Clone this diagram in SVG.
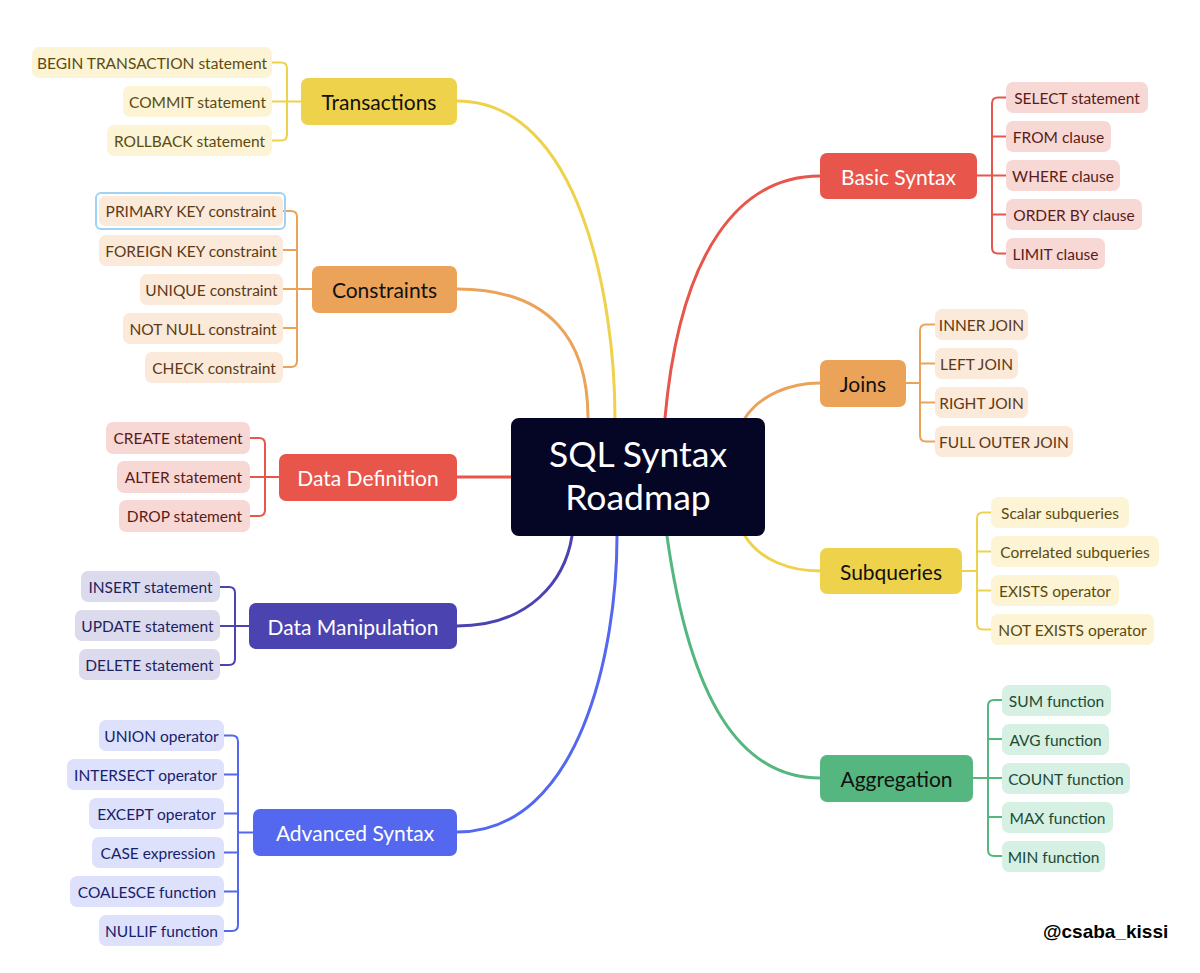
<svg xmlns="http://www.w3.org/2000/svg" width="1200" height="973" viewBox="0 0 1200 973">
<style>
.leaf{font-family:Lato,"Liberation Sans",sans-serif;font-size:15.5px;text-anchor:middle;dominant-baseline:central}
.br{font-family:Lato,"Liberation Sans",sans-serif;font-size:21px;text-anchor:middle;dominant-baseline:central}
.ctr{font-family:Lato,"Liberation Sans",sans-serif;font-size:35.5px;text-anchor:middle;fill:#ffffff}
.c{fill:none;stroke-width:3;stroke-linecap:round}
.b{fill:none;stroke-width:2}
.y{stroke:#efd24c}.o{stroke:#eba35a}.r{stroke:#e8554a}.i{stroke:#4a43b0}.bl{stroke:#5368ef}.g{stroke:#55b77f}
.ly rect{fill:#fcf4d4}.ly text{fill:#5b4b12}
.lo rect{fill:#fbe9d9}.lo text{fill:#5d3a18}
.lr rect{fill:#f8d8d5}.lr text{fill:#5a1c19}
.li rect{fill:#dcdbee}.li text{fill:#221f5c}
.lb rect{fill:#dde1fc}.lb text{fill:#18226b}
.lg rect{fill:#d6f0e3}.lg text{fill:#1d4a33}
</style>
<rect width="1200" height="973" fill="#ffffff"/>
<g id="connectors">
<path class="c y" d="M457,101 C580,101 615,300 615,418"/>
<path class="c o" d="M457,289 C550,289 588,340 588,418"/>
<path class="c r" d="M457,477 H511"/>
<path class="c i" d="M457,626 C530,626 565,580 572,536"/>
<path class="c bl" d="M457,832 C580,832 617,650 617,536"/>
<path class="c r" d="M665,418 C680,250 740,176 820,176"/>
<path class="c o" d="M745,418 C760,395 790,383 820,383"/>
<path class="c y" d="M745,536 C760,560 790,571 820,571"/>
<path class="c g" d="M667,536 C690,700 740,778 820,778"/>
<path class="b y" d="M272,62.5 H281 Q287,62.5 287,68.5 V134.5 Q287,140.5 281,140.5 H272 M272,101.5 H301"/>
<path class="b o" d="M283,211 H291 Q297,211 297,217 V361 Q297,367 291,367 H283 M283,250 H297 M283,289 H312 M283,328 H297"/>
<path class="b r" d="M250,438 H259 Q265,438 265,444 V510 Q265,516 259,516 H250 M250,477 H279"/>
<path class="b i" d="M220,587 H229 Q235,587 235,593 V659 Q235,665 229,665 H220 M220,626 H249"/>
<path class="b bl" d="M224,735.5 H232 Q238,735.5 238,741.5 V925 Q238,931 232,931 H224 M224,774.5 H238 M224,813.5 H238 M224,852.5 H238 M224,891.5 H238 M238,832.5 H253"/>
<path class="b r" d="M1006,97.5 H998 Q992,97.5 992,103.5 V247.5 Q992,253.5 998,253.5 H1006 M1006,136.5 H992 M977,175.5 H1006 M1006,214.5 H992"/>
<path class="b o" d="M935,324.5 H926 Q920,324.5 920,330.5 V435.5 Q920,441.5 926,441.5 H935 M935,363.5 H920 M906,383 H920 M935,402.5 H920"/>
<path class="b y" d="M991,512.5 H983 Q977,512.5 977,518.5 V623.5 Q977,629.5 983,629.5 H991 M991,551.5 H977 M962,571 H977 M991,590.5 H977"/>
<path class="b g" d="M1002,700 H994 Q988,700 988,706 V850 Q988,856 994,856 H1002 M1002,739 H988 M973,778 H1002 M1002,817 H988"/>
</g>
<g id="center">
<rect x="511" y="418" width="254" height="118" rx="8" fill="#050626"/>
<text class="ctr" x="638" y="467">SQL Syntax</text>
<text class="ctr" x="638" y="510">Roadmap</text>
</g>
<g id="transactions"><rect x="301" y="78" width="156" height="47" rx="7" fill="#efd24c"/><text class="br" x="379" y="101.5" fill="#111">Transactions</text></g>
<g id="t1" class="ly"><rect x="32" y="47" width="240" height="31" rx="7"/><text class="leaf" x="152" y="62.5">BEGIN TRANSACTION statement</text></g>
<g id="t2" class="ly"><rect x="123" y="86" width="149" height="31" rx="7"/><text class="leaf" x="197.5" y="101.5">COMMIT statement</text></g>
<g id="t3" class="ly"><rect x="107" y="125" width="165" height="31" rx="7"/><text class="leaf" x="189.5" y="140.5">ROLLBACK statement</text></g>

<g id="constraints"><rect x="312" y="266" width="145" height="47" rx="7" fill="#eba35a"/><text class="br" x="384.5" y="289.5" fill="#111">Constraints</text></g>
<g id="c1" class="lo"><rect x="96" y="193" width="189" height="36" rx="5" style="fill:none;stroke:#9fd3f5;stroke-width:2"/><rect x="99" y="196" width="184" height="30" rx="6"/><text class="leaf" x="191" y="211">PRIMARY KEY constraint</text></g>
<g id="c2" class="lo"><rect x="99" y="235" width="184" height="31" rx="7"/><text class="leaf" x="191" y="250.5">FOREIGN KEY constraint</text></g>
<g id="c3" class="lo"><rect x="140" y="274" width="143" height="31" rx="7"/><text class="leaf" x="211.5" y="289.5">UNIQUE constraint</text></g>
<g id="c4" class="lo"><rect x="123" y="313" width="160" height="31" rx="7"/><text class="leaf" x="203" y="328.5">NOT NULL constraint</text></g>
<g id="c5" class="lo"><rect x="145" y="352" width="138" height="31" rx="7"/><text class="leaf" x="214" y="367.5">CHECK constraint</text></g>

<g id="datadef"><rect x="279" y="454" width="178" height="47" rx="7" fill="#e8554a"/><text class="br" x="368" y="477.5" fill="#fff">Data Definition</text></g>
<g id="d1" class="lr"><rect x="106" y="422" width="144" height="32" rx="7"/><text class="leaf" x="178" y="438">CREATE statement</text></g>
<g id="d2" class="lr"><rect x="117" y="461" width="133" height="32" rx="7"/><text class="leaf" x="183.5" y="477">ALTER statement</text></g>
<g id="d3" class="lr"><rect x="119" y="500" width="131" height="32" rx="7"/><text class="leaf" x="184.5" y="516">DROP statement</text></g>

<g id="datamanip"><rect x="249" y="603" width="208" height="46" rx="7" fill="#4a43b0"/><text class="br" x="353" y="626" fill="#fff">Data Manipulation</text></g>
<g id="m1" class="li"><rect x="81" y="571" width="139" height="31" rx="7"/><text class="leaf" x="150.5" y="586.5">INSERT statement</text></g>
<g id="m2" class="li"><rect x="75" y="610" width="145" height="31" rx="7"/><text class="leaf" x="147.5" y="625.5">UPDATE statement</text></g>
<g id="m3" class="li"><rect x="79" y="649" width="141" height="31" rx="7"/><text class="leaf" x="149.5" y="664.5">DELETE statement</text></g>

<g id="advanced"><rect x="253" y="809" width="204" height="47" rx="7" fill="#5368ef"/><text class="br" x="355" y="832.5" fill="#fff">Advanced Syntax</text></g>
<g id="a1" class="lb"><rect x="99" y="720" width="125" height="31" rx="7"/><text class="leaf" x="161.5" y="735.5">UNION operator</text></g>
<g id="a2" class="lb"><rect x="67" y="759" width="157" height="31" rx="7"/><text class="leaf" x="145.5" y="774.5">INTERSECT operator</text></g>
<g id="a3" class="lb"><rect x="89" y="798" width="135" height="31" rx="7"/><text class="leaf" x="156.5" y="813.5">EXCEPT operator</text></g>
<g id="a4" class="lb"><rect x="92" y="837" width="132" height="31" rx="7"/><text class="leaf" x="158" y="852.5">CASE expression</text></g>
<g id="a5" class="lb"><rect x="70" y="876" width="154" height="31" rx="7"/><text class="leaf" x="147" y="891.5">COALESCE function</text></g>
<g id="a6" class="lb"><rect x="99" y="915" width="125" height="31" rx="7"/><text class="leaf" x="161.5" y="930.5">NULLIF function</text></g>

<g id="basic"><rect x="820" y="153" width="157" height="46" rx="7" fill="#e8554a"/><text class="br" x="898.5" y="176" fill="#fff">Basic Syntax</text></g>
<g id="b1" class="lr"><rect x="1006" y="82" width="142" height="31" rx="7"/><text class="leaf" x="1077" y="97.5">SELECT statement</text></g>
<g id="b2" class="lr"><rect x="1006" y="121" width="105" height="31" rx="7"/><text class="leaf" x="1058.5" y="136.5">FROM clause</text></g>
<g id="b3" class="lr"><rect x="1006" y="160" width="114" height="31" rx="7"/><text class="leaf" x="1063" y="175.5">WHERE clause</text></g>
<g id="b4" class="lr"><rect x="1006" y="199" width="136" height="31" rx="7"/><text class="leaf" x="1074" y="214.5">ORDER BY clause</text></g>
<g id="b5" class="lr"><rect x="1006" y="238" width="99" height="31" rx="7"/><text class="leaf" x="1055.5" y="253.5">LIMIT clause</text></g>

<g id="joins"><rect x="820" y="360" width="86" height="47" rx="7" fill="#eba35a"/><text class="br" x="863" y="383.5" fill="#111">Joins</text></g>
<g id="j1" class="lo"><rect x="935" y="309" width="93" height="31" rx="7"/><text class="leaf" x="981.5" y="324.5">INNER JOIN</text></g>
<g id="j2" class="lo"><rect x="935" y="348" width="83" height="31" rx="7"/><text class="leaf" x="976.5" y="363.5">LEFT JOIN</text></g>
<g id="j3" class="lo"><rect x="935" y="387" width="93" height="31" rx="7"/><text class="leaf" x="981.5" y="402.5">RIGHT JOIN</text></g>
<g id="j4" class="lo"><rect x="935" y="426" width="138" height="31" rx="7"/><text class="leaf" x="1004" y="441.5">FULL OUTER JOIN</text></g>

<g id="subqueries"><rect x="820" y="548" width="142" height="46" rx="7" fill="#efd24c"/><text class="br" x="891" y="571" fill="#111">Subqueries</text></g>
<g id="s1" class="ly"><rect x="991" y="497" width="138" height="31" rx="7"/><text class="leaf" x="1060" y="512.5">Scalar subqueries</text></g>
<g id="s2" class="ly"><rect x="991" y="536" width="168" height="31" rx="7"/><text class="leaf" x="1075" y="551.5">Correlated subqueries</text></g>
<g id="s3" class="ly"><rect x="991" y="575" width="128" height="31" rx="7"/><text class="leaf" x="1055" y="590.5">EXISTS operator</text></g>
<g id="s4" class="ly"><rect x="991" y="614" width="163" height="31" rx="7"/><text class="leaf" x="1072.5" y="629.5">NOT EXISTS operator</text></g>

<g id="aggregation"><rect x="820" y="755" width="153" height="47" rx="7" fill="#55b77f"/><text class="br" x="896.5" y="778.5" fill="#111">Aggregation</text></g>
<g id="g1" class="lg"><rect x="1002" y="685" width="109" height="31" rx="7"/><text class="leaf" x="1056.5" y="700.5">SUM function</text></g>
<g id="g2" class="lg"><rect x="1002" y="724" width="107" height="31" rx="7"/><text class="leaf" x="1055.5" y="739.5">AVG function</text></g>
<g id="g3" class="lg"><rect x="1002" y="763" width="128" height="31" rx="7"/><text class="leaf" x="1066" y="778.5">COUNT function</text></g>
<g id="g4" class="lg"><rect x="1002" y="802" width="111" height="31" rx="7"/><text class="leaf" x="1057.5" y="817.5">MAX function</text></g>
<g id="g5" class="lg"><rect x="1002" y="841" width="103" height="31" rx="7"/><text class="leaf" x="1053.5" y="856.5">MIN function</text></g>

<g id="watermark"><text x="1043" y="938" font-family="Liberation Sans,Arial,sans-serif" font-size="19" font-weight="bold" fill="#000">@csaba_kissi</text></g>
</svg>
